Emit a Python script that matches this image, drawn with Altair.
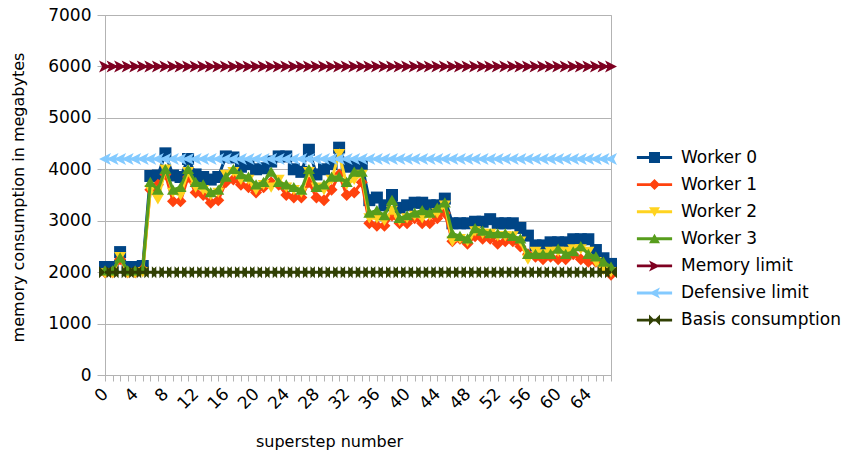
import altair as alt
import pandas as pd

steps = list(range(68))

worker0 = [2100, 2100, 2390, 2100, 2100, 2120, 3870, 3880, 4310, 3880,
           3850, 4200, 3900, 3850, 3800, 3850, 4250, 4230, 4050, 4100,
           4000, 4020, 4150, 4250, 4250, 4000, 3950, 4380, 3900, 4000,
           4100, 4420, 4050, 4080, 4100, 3400, 3450, 3300, 3500, 3250,
           3300, 3350, 3350, 3300, 3300, 3430, 2950, 2950, 2950, 2980,
           2980, 3030, 2950, 2950, 2950, 2860, 2710, 2520, 2520, 2580,
           2580, 2580, 2640, 2640, 2640, 2430, 2270, 2160]
worker1 = [2000, 2000, 2250, 2000, 2000, 2050, 3600, 3700, 3900, 3380,
           3380, 3850, 3550, 3500, 3350, 3400, 3750, 3800, 3700, 3650,
           3550, 3650, 3750, 3700, 3500, 3450, 3450, 3750, 3450, 3400,
           3600, 3900, 3500, 3550, 3750, 2950, 2900, 2900, 3100, 2950,
           2950, 3050, 2950, 2950, 3050, 3150, 2600, 2650, 2550, 2700,
           2650, 2650, 2550, 2600, 2600, 2500, 2350, 2300, 2250, 2300,
           2250, 2250, 2350, 2250, 2200, 2200, 2100, 1950]
worker2 = [1980, 1980, 2300, 1980, 1980, 2000, 3600, 3420, 4000, 3550,
           3500, 3950, 3650, 3600, 3500, 3550, 3900, 3950, 3800, 3800,
           3600, 3700, 3650, 3800, 3650, 3600, 3550, 3950, 3650, 3600,
           3800, 4300, 3700, 3800, 3900, 3050, 3050, 3000, 3200, 3000,
           3050, 3100, 3050, 3100, 3150, 3300, 2600, 2650, 2600, 2800,
           2750, 2750, 2700, 2700, 2700, 2600, 2250, 2400, 2350, 2400,
           2400, 2400, 2450, 2450, 2400, 2200, 2050, 2000]
worker3 = [2030, 2030, 2280, 2030, 2030, 2050, 3750, 3600, 4000, 3600,
           3650, 4000, 3750, 3700, 3550, 3600, 3850, 4000, 3900, 3850,
           3700, 3750, 3950, 3750, 3700, 3650, 3600, 4000, 3650, 3700,
           3850, 3850, 3750, 3950, 3950, 3150, 3200, 3100, 3400, 3050,
           3100, 3150, 3200, 3150, 3250, 3350, 2750, 2700, 2650, 2850,
           2800, 2750, 2750, 2750, 2700, 2650, 2350, 2350, 2350, 2350,
           2450, 2350, 2400, 2500, 2350, 2300, 2200, 2100]
memory_limit = [6000] * 68
defensive_limit = [4200] * 68
basis_consumption = [2000] * 68

names = ["Worker 0", "Worker 1", "Worker 2", "Worker 3",
         "Memory limit", "Defensive limit", "Basis consumption"]
series_values = [worker0, worker1, worker2, worker3,
                 memory_limit, defensive_limit, basis_consumption]
colors = ["#004586", "#ff420e", "#ffd320", "#579d1c",
          "#7e0021", "#83caff", "#314004"]

y_ticks = [0, 1000, 2000, 3000, 4000, 5000, 6000, 7000]

# marker shapes (all subpaths same orientation)
marker_paths = [
    "M-1,-1L1,-1L1,1L-1,1Z",                       # square
    "M0,-1L1,0L0,1L-1,0Z",                          # diamond
    "M-1,-0.8L1,-0.8L0,0.9Z",                       # triangle down
    "M0,-0.9L1,0.8L-1,0.8Z",                        # triangle up
    "M-1,-1L1,0L-1,1L-0.5,0Z",                      # arrow right
    "M1,-1L0.5,0L1,1L-1,0Z",                        # arrow left
    "M-1,-1L0,0L-1,1Z M1,-1L1,1L0,0Z",              # bowtie
]
bar = "M-3.2,-0.26L3.2,-0.26L3.2,0.26L-3.2,0.26Z "
legend_paths = [bar + p for p in marker_paths]

rows = []
for name, vals in zip(names, series_values):
    for s, v in zip(steps, vals):
        rows.append({"step": s, "series": name, "value": v})
df = pd.DataFrame(rows)

x_enc = alt.X(
    "step:Q",
    scale=alt.Scale(domain=[0, 67], nice=False, zero=False),
    axis=alt.Axis(
        values=steps,
        labelExpr="datum.value % 4 == 0 ? datum.label : ''",
        labelAngle=-45, labelAlign="right", labelBaseline="middle",
        labelFontSize=17, labelPadding=10, labelOverlap=False, labelColor="#000000",
        tickSize=6, tickColor="#b3b3b3", domainColor="#b3b3b3", grid=False,
        title="superstep number", titleFontSize=16, titleFontWeight="normal",
        titleX=224, titleY=66, titleAlign="center", titleBaseline="middle",
        titleColor="#000000",
    ),
)
y_enc = alt.Y(
    "value:Q",
    scale=alt.Scale(domain=[0, 7000], nice=False),
    axis=alt.Axis(
        values=y_ticks, format="d",
        labelFontSize=17, labelPadding=6, labelColor="#000000",
        tickSize=8, tickColor="#b3b3b3", domainColor="#b3b3b3",
        grid=True, gridColor="#b3b3b3",
        title="memory consumption in megabytes", titleFontSize=16,
        titleFontWeight="normal", titleX=-87, titleY=182, titleAngle=-90,
        titleAlign="center", titleBaseline="middle", titleColor="#000000",
    ),
)

base = alt.Chart(df)
layers = []
for name, color, path in zip(names, colors, marker_paths):
    sub = base.transform_filter(alt.datum.series == name)
    layers.append(sub.mark_line(color=color, strokeWidth=3).encode(x=x_enc, y=y_enc))
    layers.append(
        sub.mark_point(shape=path, filled=True, color=color, size=144,
                       opacity=1, strokeWidth=0).encode(x=x_enc, y=y_enc)
    )

leg = alt.Legend(
    title=None, orient="none", legendX=541, legendY=134,
    labelFontSize=17, labelColor="#000000", labelOffset=18,
    symbolSize=121, symbolStrokeWidth=0, rowPadding=9.1, padding=0,
    symbolOpacity=1,
)
legend_layer = base.transform_filter("datum.value < 0").mark_point(
    filled=True, size=121, opacity=1, strokeWidth=0
).encode(
    x=x_enc, y=y_enc,
    fill=alt.Fill("series:N", scale=alt.Scale(domain=names, range=colors), legend=leg),
    shape=alt.Shape("series:N", scale=alt.Scale(domain=names, range=legend_paths), legend=leg),
)
layers.append(legend_layer)

chart = alt.layer(*layers).properties(
    width=506, height=360,
    autosize=alt.AutoSizeParams(type="none"),
    padding={"left": 105, "top": 15, "right": 235, "bottom": 80},
).configure(
    font="DejaVu Sans",
    background="#ffffff",
).configure_view(stroke="#b3b3b3", strokeWidth=1)

chart.save("out.html", embed_options={"renderer": "svg", "actions": False})
